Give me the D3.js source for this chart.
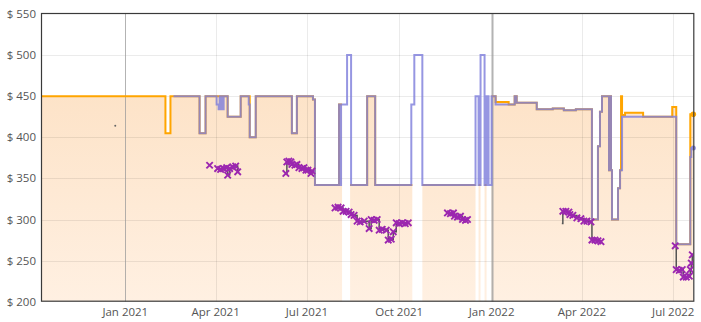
<!DOCTYPE html>
<html><head><meta charset="utf-8">
<script src="https://cdn.jsdelivr.net/npm/d3@7"></script>
<style>
body{margin:0;background:#fff}
svg{display:block}
text{font-family:"Open Sans","Noto Sans",sans-serif;font-size:11.5px;fill:#555}
</style>
</head><body>
<svg id="chart" width="701" height="322"></svg>
<script>
// ---- data ----
const xDomain = ["2020-10-09", "2022-07-21"];
const yTicks = [200, 250, 300, 350, 400, 450, 500, 550];

// Amazon price (null = out of stock)
const amazonPrice = [
  ["2020-10-09",450],["2021-02-10",405],["2021-02-15",450],["2021-03-16",405],
  ["2021-03-22",450],["2021-04-13",425],["2021-04-26",450],["2021-05-05",400],
  ["2021-05-11",450],["2021-06-16",405],["2021-06-21",450],["2021-07-07",446],
  ["2021-07-09",342],["2021-08-02",440],["2021-08-05",null],["2021-08-13",342],
  ["2021-08-30",450],["2021-09-07",342],["2021-10-14",null],["2021-10-24",342],
  ["2021-12-16",null],["2021-12-19",342],["2021-12-21",null],["2021-12-25",342],
  ["2021-12-27",null],["2022-01-01",450],["2022-01-05",443],["2022-01-18",440],
  ["2022-01-24",450],["2022-01-26",442],["2022-02-15",434],["2022-03-03",435],
  ["2022-03-14",433],["2022-03-26",434],["2022-04-11",300],["2022-04-17",389],
  ["2022-04-19",431],["2022-04-21",450],["2022-04-28",360],["2022-04-29",450],
  ["2022-04-30",360],["2022-05-01",300],["2022-05-07",338],["2022-05-09",360],
  ["2022-05-10",450],["2022-05-11",427],["2022-05-14",430],["2022-06-01",425],
  ["2022-06-30",437],["2022-07-04",270],["2022-07-18",428],["2022-07-21",428]
];

// New, 3rd party price
const newPrice = [
  ["2021-02-18",450],["2021-03-16",405],["2021-03-22",450],["2021-04-02",440],
  ["2021-04-04",434],["2021-04-05",450],["2021-04-06",434],["2021-04-07",450],
  ["2021-04-08",434],["2021-04-09",450],["2021-04-13",425],["2021-04-26",450],
  ["2021-05-04",440],["2021-05-05",400],["2021-05-11",450],["2021-06-16",405],
  ["2021-06-21",450],["2021-07-07",446],["2021-07-09",342],["2021-08-02",440],
  ["2021-08-03",342],["2021-08-04",440],["2021-08-10",500],["2021-08-14",342],
  ["2021-08-30",450],["2021-09-07",342],["2021-10-13",440],["2021-10-16",500],
  ["2021-10-24",342],["2021-12-16",450],["2021-12-19",342],["2021-12-21",500],
  ["2021-12-25",342],["2021-12-27",450],["2021-12-29",342],["2022-01-01",450],
  ["2022-01-05",440],["2022-01-24",450],["2022-01-26",442],["2022-02-15",434],
  ["2022-03-03",435],["2022-03-14",433],["2022-03-26",434],["2022-04-11",300],
  ["2022-04-17",389],["2022-04-19",431],["2022-04-21",450],["2022-04-28",360],
  ["2022-04-29",450],["2022-04-30",360],["2022-05-01",300],["2022-05-07",338],
  ["2022-05-09",360],["2022-05-11",425],["2022-07-04",270],["2022-07-18",376],
  ["2022-07-19",387],["2022-07-21",387]
];

// Used price (x markers); null breaks the line
const usedPrice = [
  ["2021-03-26",366],["2021-03-27",null],
  ["2021-04-03",362],["2021-04-06",361],["2021-04-09",362],["2021-04-12",363],
  ["2021-04-13",354],["2021-04-15",362],["2021-04-18",364],["2021-04-21",365],
  ["2021-04-23",358],["2021-04-24",null],
  ["2021-06-10",356],["2021-06-11",370],["2021-06-13",371],["2021-06-15",370],
  ["2021-06-16",367],["2021-06-19",366],["2021-06-21",367],["2021-06-23",363],
  ["2021-06-26",362],["2021-06-28",363],["2021-06-30",360],["2021-07-02",360],
  ["2021-07-05",356],["2021-07-06",359],["2021-07-07",null],
  ["2021-07-29",314],["2021-08-01",315],["2021-08-04",314],["2021-08-06",310],
  ["2021-08-09",310],["2021-08-12",309],["2021-08-14",306],["2021-08-17",305],
  ["2021-08-20",298],["2021-08-23",297],["2021-08-27",298],["2021-09-01",289],
  ["2021-09-03",300],["2021-09-06",299],["2021-09-09",300],["2021-09-11",287],
  ["2021-09-14",288],["2021-09-18",287],["2021-09-20",275],["2021-09-23",276],
  ["2021-09-25",285],["2021-09-28",296],["2021-10-01",295],["2021-10-04",296],
  ["2021-10-07",295],["2021-10-10",296],["2021-10-11",null],
  ["2021-11-18",308],["2021-11-21",307],["2021-11-24",308],["2021-11-25",304],
  ["2021-11-28",303],["2021-12-01",304],["2021-12-03",300],["2021-12-06",299],
  ["2021-12-08",300],["2021-12-09",null],
  ["2022-03-13",310],["2022-03-16",310],["2022-03-19",309],
  ["2022-03-20",306],["2022-03-23",305],["2022-03-27",302],["2022-03-31",301],
  ["2022-04-03",298],["2022-04-06",298],["2022-04-10",297],["2022-04-11",275],
  ["2022-04-14",275],["2022-04-17",274],["2022-04-20",273],["2022-04-21",null],
  ["2022-07-03",268],["2022-07-04",239],["2022-07-07",238],["2022-07-10",239],
  ["2022-07-11",230],["2022-07-14",230],["2022-07-17",231],["2022-07-18",239],
  ["2022-07-19",247],["2022-07-20",257]
];
// used series lead-in stub (line only, no marker)
const usedLeadIn = [["2022-03-12",295],["2022-03-13",310]];

// single extra price point
const otherPrice = [["2020-12-22",414]];

// ---- chart ----
const parse = d3.timeParse("%Y-%m-%d");
const svg = d3.select("#chart");
const x = d3.scaleTime().domain(xDomain.map(parse)).range([41, 693.3]);
const y = d3.scaleLinear().domain([200, 550]).range([301.7, 14]);

const toObj = s => s.map(d => ({date: parse(d[0]), v: d[1]}));
function extendGaps(s) {
  const o = [];
  s.forEach((d, i) => {
    if (d.v == null && i > 0 && s[i-1].v != null) o.push({date: d.date, v: s[i-1].v});
    o.push(d);
  });
  return o;
}
const amz = extendGaps(toObj(amazonPrice));
const nw = extendGaps(toObj(newPrice));
const used = toObj(usedPrice);
const usedStub = toObj(usedLeadIn);
const other = toObj(otherPrice);

// gradient
const defs = svg.append("defs");
const grad = defs.append("linearGradient").attr("id", "amzFill")
  .attr("gradientUnits", "userSpaceOnUse")
  .attr("x1", 0).attr("x2", 0).attr("y1", y(450)).attr("y2", y(200));
grad.append("stop").attr("offset", 0).attr("stop-color", "#fde3c8");
grad.append("stop").attr("offset", 1).attr("stop-color", "#fff0e2");

defs.append("clipPath").attr("id", "plotClip").append("rect")
  .attr("x", x.range()[0]).attr("y", y.range()[1])
  .attr("width", x.range()[1] - x.range()[0]).attr("height", y.range()[0] - y.range()[1]);

const plot = svg.append("g").attr("clip-path", "url(#plotClip)");

// fill under amazon
plot.append("path").datum(amz)
  .attr("d", d3.area().defined(d => d.v != null).curve(d3.curveStepAfter)
    .x(d => x(d.date)).y0(y(200)).y1(d => y(d.v)))
  .attr("fill", "url(#amzFill)");

// grid
const xTicks = x.ticks(d3.timeMonth.every(3));
plot.append("g").selectAll("line").data(yTicks.slice(1, -1)).join("line")
  .attr("x1", x.range()[0]).attr("x2", x.range()[1])
  .attr("y1", d => Math.round(y(d)) + 0.5).attr("y2", d => Math.round(y(d)) + 0.5)
  .attr("stroke", "#000").attr("stroke-opacity", 0.08);
plot.append("g").selectAll("line").data(xTicks).join("line")
  .attr("x1", d => Math.round(x(d)) + 0.5).attr("x2", d => Math.round(x(d)) + 0.5)
  .attr("y1", y.range()[1]).attr("y2", y.range()[0])
  .attr("stroke", d => d.getMonth() === 0 ? "#999" : "#000")
  .attr("stroke-opacity", d => d.getMonth() === 0 ? 0.75 : 0.08)
  .attr("stroke-width", d => (d.getMonth() === 0 && d.getFullYear() === 2022) ? 2 : 1);

// amazon line
plot.append("path").datum(amz)
  .attr("d", d3.line().defined(d => d.v != null).curve(d3.curveStepAfter)
    .x(d => x(d.date)).y(d => y(d.v)))
  .attr("fill", "none").attr("stroke", "#ffa500").attr("stroke-width", 2);

// new line
plot.append("path").datum(nw)
  .attr("d", d3.line().defined(d => d.v != null).curve(d3.curveStepAfter)
    .x(d => x(d.date)).y(d => y(d.v)))
  .attr("fill", "none").attr("stroke", "#7f7fdc").attr("stroke-opacity", 0.82)
  .attr("stroke-width", 2);

// used line + markers
const usedLine = d3.line().defined(d => d.v != null).curve(d3.curveStepAfter)
  .x(d => x(d.date)).y(d => y(d.v));
plot.append("path").datum(usedStub).attr("d", usedLine)
  .attr("fill", "none").attr("stroke", "#555").attr("stroke-width", 1.5);
plot.append("path").datum(used).attr("d", usedLine)
  .attr("fill", "none").attr("stroke", "#555").attr("stroke-width", 1.5);

plot.append("g").selectAll("path").data(used.filter(d => d.v != null)).join("path")
  .attr("transform", d => `translate(${x(d.date)},${y(d.v)})`)
  .attr("d", "M-3.2,-3.2L3.2,3.2M-3.2,3.2L3.2,-3.2")
  .attr("stroke", "#9c27b0").attr("stroke-width", 1.9).attr("fill", "none");

plot.append("g").selectAll("circle").data(other).join("circle")
  .attr("cx", d => x(d.date)).attr("cy", d => y(d.v)).attr("r", 1)
  .attr("fill", "#666");

// end dots
const lastA = amz[amz.length - 1], lastN = nw[nw.length - 1];
svg.append("circle").attr("cx", x(lastA.date)).attr("cy", y(lastA.v)).attr("r", 2.8).attr("fill", "#ffa500");
svg.append("circle").attr("cx", x(lastN.date)).attr("cy", y(lastN.v)).attr("r", 2.5).attr("fill", "#8a8ae0");

// frame
svg.append("rect")
  .attr("x", x.range()[0] + 0.5).attr("y", y.range()[1] - 0.5)
  .attr("width", x.range()[1] - x.range()[0]).attr("height", y.range()[0] - y.range()[1])
  .attr("fill", "none").attr("stroke", "#3a3a3a").attr("stroke-width", 1.2);

// labels
svg.append("g").selectAll("text").data(yTicks).join("text")
  .attr("x", 36).attr("y", d => y(d)).attr("dy", "0.35em")
  .attr("text-anchor", "end").text(d => "$ " + d);
svg.append("g").selectAll("text").data(xTicks).join("text")
  .attr("x", d => x(d)).attr("y", 316)
  .attr("text-anchor", "middle").text(d => d3.timeFormat("%b %Y")(d));
</script>
</body></html>
